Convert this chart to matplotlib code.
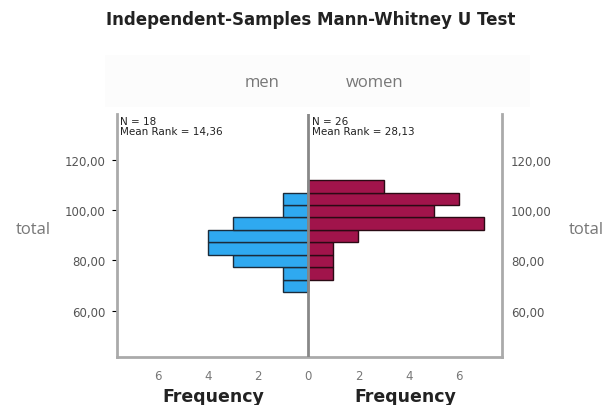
import matplotlib
matplotlib.use("Agg")
import matplotlib.pyplot as plt
from matplotlib.patches import Rectangle
import numpy as np

# ---- data ----
bin_start = 67.3
bin_width = 4.96
men_counts = [1, 1, 3, 4, 4, 3, 1, 1, 0]        # bins from bottom
women_counts = [0, 1, 1, 1, 2, 7, 5, 6, 3]      # bins from bottom
men_label = "men"
women_label = "women"
men_stats = ["N = 18", "Mean Rank = 14,36"]
women_stats = ["N = 26", "Mean Rank = 28,13"]
y_ticks = [60, 80, 100, 120]
x_ticks = [-6, -4, -2, 0, 2, 4, 6]
title = "Independent-Samples Mann-Whitney U Test"

W, H = 606, 406
fig = plt.figure(figsize=(W / 100, H / 100), dpi=100)
fig.patch.set_facecolor("white")

# faint header panel
fig.patches.append(Rectangle((105 / W, 1 - 108 / H), 425 / W, 52 / H,
                             transform=fig.transFigure, facecolor="#fcfcfc",
                             edgecolor="none", zorder=0))

ax = fig.add_axes([117 / W, 1 - 358 / H, (502 - 117) / W, (358 - 115) / H])
edges = bin_start + bin_width * np.arange(len(men_counts))
ax.barh(edges, [-c for c in men_counts], height=bin_width, align="edge",
        color="#2fa9f0", edgecolor="#1b2b3a", linewidth=1.0, zorder=2)
ax.barh(edges, women_counts, height=bin_width, align="edge",
        color="#a1144b", edgecolor="#2a0a14", linewidth=1.0, zorder=2)
ax.axvline(0, color="#888888", lw=2, zorder=3)

ax.set_xlim(-7.62, 7.72)
ax.set_ylim(41.6, 138.2)
for s in ["left", "right", "bottom"]:
    ax.spines[s].set_color("#aaaaaa")
    ax.spines[s].set_linewidth(2)
ax.spines["top"].set_visible(False)

ylabels = [f"{v},00" for v in y_ticks]
ax.set_yticks(y_ticks)
ax.set_yticklabels(ylabels)
ax.tick_params(axis="y", left=False, right=False, labelsize=8.5,
               labelcolor="#555555", pad=5)

ax2 = ax.twinx()
ax2.set_ylim(ax.get_ylim())
ax2.set_yticks(y_ticks)
ax2.set_yticklabels(ylabels)
ax2.tick_params(axis="y", right=False, labelsize=8.5, labelcolor="#555555", pad=3)
for s in ax2.spines.values():
    s.set_visible(False)

ax.set_xticks(x_ticks)
ax.set_xticklabels([str(abs(v)) for v in x_ticks])
ax.tick_params(axis="x", bottom=False, labelsize=8.5, labelcolor="#777777", pad=5)

# stats text
ax.text(-7.5, 137.5, men_stats[0] + "\n" + men_stats[1], fontsize=7.5,
        va="top", ha="left", color="#222222", linespacing=1.0)
ax.text(0.15, 137.5, women_stats[0] + "\n" + women_stats[1], fontsize=7.5,
        va="top", ha="left", color="#222222", linespacing=1.0)

# figure texts
fig.text(311 / W, 1 - 20 / H, title, ha="center", va="center",
         fontsize=12, fontweight="bold", color="#222222")
fig.text(262 / W, 1 - 83 / H, men_label, ha="center", va="center",
         fontsize=12, family="Open Sans", color="#777777")
fig.text(375 / W, 1 - 83 / H, women_label, ha="center", va="center",
         fontsize=12, family="Open Sans", color="#777777")
fig.text(33 / W, 1 - 230 / H, "total", ha="center", va="center",
         fontsize=12, family="Open Sans", color="#777777")
fig.text(604 / W, 1 - 230 / H, "total", ha="right", va="center",
         fontsize=12, family="Open Sans", color="#777777")
fig.text(213 / W, 1 - 397 / H, "Frequency", ha="center", va="center",
         fontsize=12.5, fontweight="bold", color="#222222")
fig.text(405 / W, 1 - 397 / H, "Frequency", ha="center", va="center",
         fontsize=12.5, fontweight="bold", color="#222222")

fig.savefig("out.png", dpi=100)
